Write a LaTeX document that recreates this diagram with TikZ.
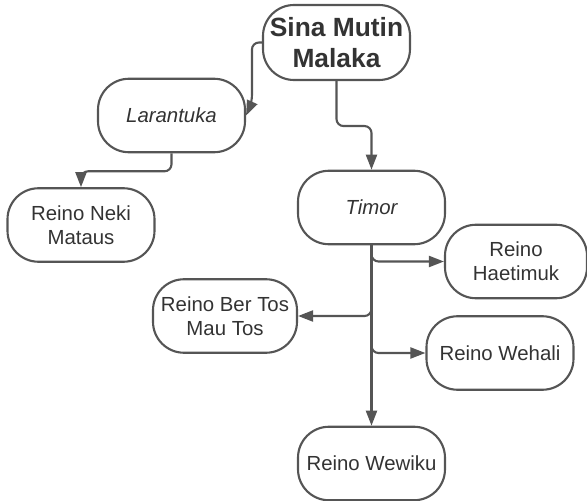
\documentclass[tikz,border=0pt]{standalone}
\usepackage{fontspec}
\setmainfont{Liberation Sans}
\usetikzlibrary{arrows.meta, positioning}
\definecolor{linegray}{HTML}{555555}
\definecolor{textgray}{HTML}{333333}
\tikzstyle{kingdom} = [rectangle, rounded corners=0.62cm, minimum width=2.94cm, minimum height=1.47cm, inner sep=2pt, align=center, text centered, draw=linegray, line width=1.2pt, fill=white, text=textgray, font=\fontsize{11.6}{13.5}\selectfont]
\tikzstyle{rootbox} = [kingdom, font=\fontsize{15}{18}\selectfont\bfseries, minimum height=1.5cm]
\tikzstyle{arrow} = [draw=linegray, line width=1.2pt, rounded corners=4pt, -{Triangle[length=0.3cm, width=0.22cm]}]

\begin{document}
\begin{tikzpicture}[node distance=2cm]
    \useasboundingbox (0,0) rectangle (11.74,-10.02);
    \node (sina) [rootbox] at (6.73,-0.85) {Sina Mutin\\Malaka};
    \node (larantuka) [kingdom, left of=sina, xshift=-1.3cm, yshift=-1.46cm] {\itshape Larantuka};
    \node (neki) [kingdom, below of=larantuka, xshift=-1.81cm, yshift=-0.19cm] {Reino Neki\\Mataus};
    \node (timor) [kingdom, below of=sina, xshift=0.7cm, yshift=-1.3cm] {\itshape Timor};
    \node (haetimuk) [kingdom, right of=timor, xshift=0.89cm, yshift=-1.08cm, minimum width=2.84cm] {Reino\\Haetimuk};
    \node (bertos) [kingdom, left of=timor, xshift=-0.93cm, yshift=-2.17cm, minimum width=2.88cm] {Reino Ber Tos\\Mau Tos};
    \node (wehali) [kingdom, right of=timor, xshift=0.57cm, yshift=-2.91cm] {Reino Wehali};
    \node (wewiku) [kingdom, below of=timor, yshift=-3.12cm] {Reino Wewiku};

    \draw [arrow] (sina.west) -- ++(-0.2,0) -- ++(0,-1.2) -- (larantuka.east);
    \draw [arrow] (larantuka.south) -- ++(0,-0.36) -| (neki.north);
    \draw [arrow] (sina.south) -- ++(0,-0.9) -| (timor.north);
    \draw [arrow] (timor.south) -- (wewiku.north);
    \draw [arrow] (timor.south) |- (haetimuk.west);
    \draw [arrow] (timor.south) |- (bertos.east);
    \draw [arrow] (timor.south) |- (wehali.west);
\end{tikzpicture}
\end{document}
